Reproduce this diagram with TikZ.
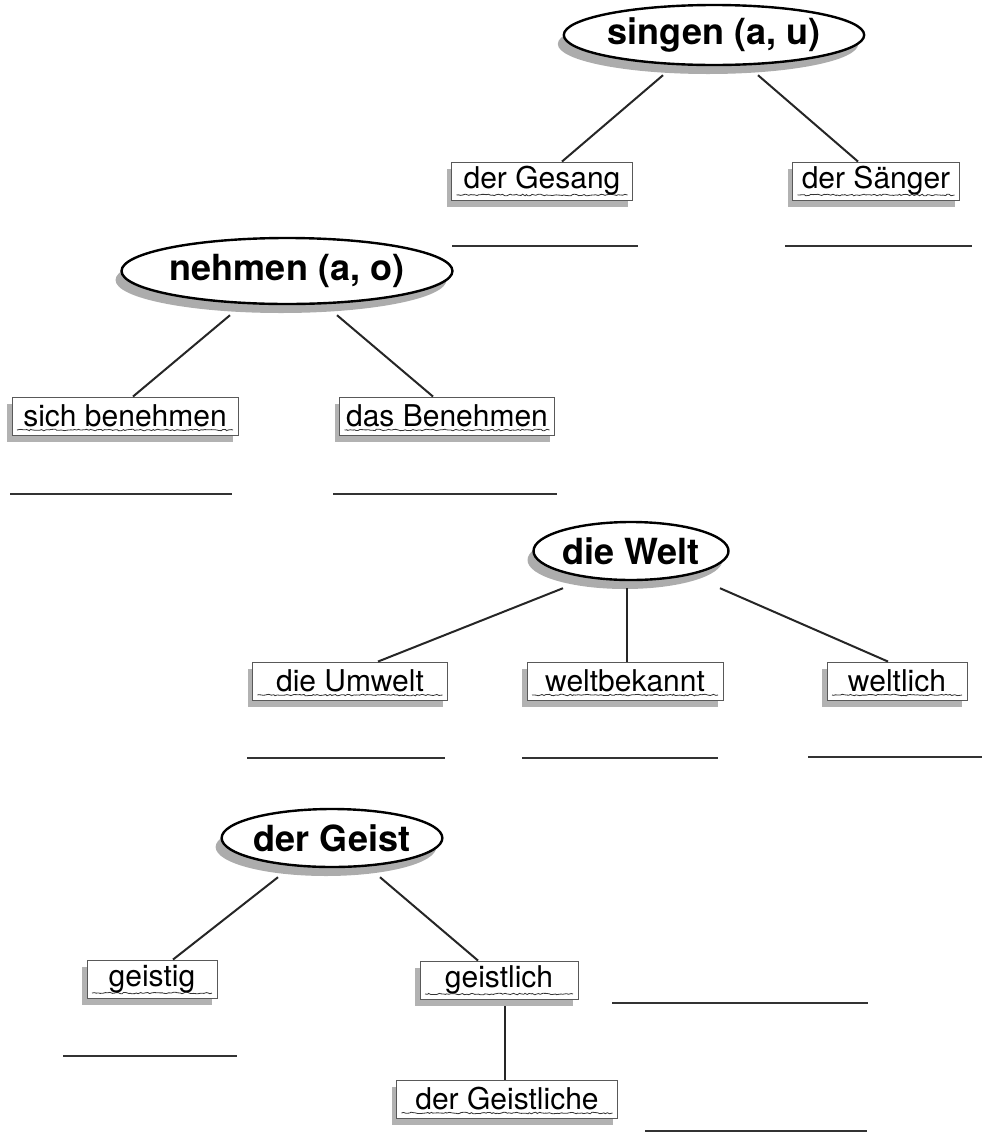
\documentclass[tikz,border=0pt]{standalone}
\usepackage{fontspec}
\setmainfont{TeX Gyre Heros}
\usetikzlibrary{shapes.geometric,shadows,decorations.pathmorphing}
\pgfmathsetseed{7}
\begin{document}
\begin{tikzpicture}[x=1pt,y=-1pt,
    stem/.style={ellipse,draw=black,line width=2.4pt,fill=white,inner sep=0pt,
      minimum height=58pt,font=\fontsize{36}{40}\selectfont\bfseries,
      general shadow={fill=gray!65,shadow xshift=-6pt,shadow yshift=-9pt}},
    word/.style={rectangle,draw=black!65,line width=0.9pt,fill=white,inner sep=0pt,
      minimum height=38pt,font=\fontsize{30}{34}\selectfont,
      general shadow={fill=gray!60,shadow xshift=-5pt,shadow yshift=-7pt},
      path picture={\draw[black!80,line width=0.8pt,decorate,
        decoration={random steps,segment length=2pt,amplitude=0.8pt}]
        ([xshift=5pt,yshift=5pt]path picture bounding box.south west) --
        ([xshift=-5pt,yshift=5pt]path picture bounding box.south east);}},
    link/.style={line width=2pt,black!85},
    blank/.style={line width=2.4pt,black!80}]
  \useasboundingbox (0,0) rectangle (985,1136);
  % singen
  \node[stem,minimum width=245pt,minimum height=60pt] at (714,35) (singen) {singen (a, u)};
  \node[word,minimum width=181pt] at (542,181) (gesang) {der Gesang};
  \node[word,minimum width=167pt] at (876,181) (saenger) {der Sänger};
  \draw[link] ([xshift=-51pt,yshift=-9pt]singen.south) -- ([xshift=20pt]gesang.north);
  \draw[link] ([xshift=44pt,yshift=-9pt]singen.south) -- ([xshift=-18pt]saenger.north);
  \draw[blank] (452,246) -- (638,246);
  \draw[blank] (785,246) -- (972,246);
  % nehmen
  \node[stem,minimum width=275pt,minimum height=66pt] at (287,271) (nehmen) {nehmen (a, o)};
  \node[word,minimum width=226pt] at (125,416) (benehmen) {sich benehmen};
  \node[word,minimum width=215pt] at (447,416) (dasbenehmen) {das Benehmen};
  \draw[link] ([xshift=-57pt,yshift=-10pt]nehmen.south) -- ([xshift=8pt]benehmen.north);
  \draw[link] ([xshift=50pt,yshift=-10pt]nehmen.south) -- ([xshift=-14pt]dasbenehmen.north);
  \draw[blank] (10,494) -- (232,494);
  \draw[blank] (333,494) -- (557,494);
  % Welt
  \node[stem,minimum width=195pt] at (631,551) (welt) {die Welt};
  \node[word,minimum width=195pt] at (350,681) (umwelt) {die Umwelt};
  \node[word,minimum width=196pt] at (625,681) (bekannt) {weltbekannt};
  \node[word,minimum width=140pt] at (897,681) (weltlich) {weltlich};
  \draw[link] ([xshift=-68pt,yshift=-7pt]welt.south) -- ([xshift=28pt]umwelt.north);
  \draw[link] ([xshift=-4pt,yshift=-7pt]welt.south) -- ([xshift=2pt]bekannt.north);
  \draw[link] ([xshift=89pt,yshift=-7pt]welt.south) -- ([xshift=-9pt]weltlich.north);
  \draw[blank] (247,758) -- (445,758);
  \draw[blank] (522,758) -- (718,758);
  \draw[blank] (808,757) -- (982,757);
  % Geist
  \node[stem,minimum width=210pt] at (332,838) (geist) {der Geist};
  \node[word,minimum width=130pt] at (152,979) (geistig) {geistig};
  \node[word,minimum width=158pt] at (499,980) (geistlich) {geistlich};
  \node[word,minimum width=221pt] at (507,1099) (geistliche) {der Geistliche};
  \draw[link] ([xshift=-54pt,yshift=-9pt]geist.south) -- ([xshift=21pt]geistig.north);
  \draw[link] ([xshift=48pt,yshift=-9pt]geist.south) -- ([xshift=-21pt]geistlich.north);
  \draw[link] ([xshift=6pt,yshift=-7pt]geistlich.south) -- ([xshift=-2pt]geistliche.north);
  \draw[blank] (63,1056) -- (237,1056);
  \draw[blank] (612,1003) -- (868,1003);
  \draw[blank] (645,1131) -- (867,1131);
\end{tikzpicture}
\end{document}
